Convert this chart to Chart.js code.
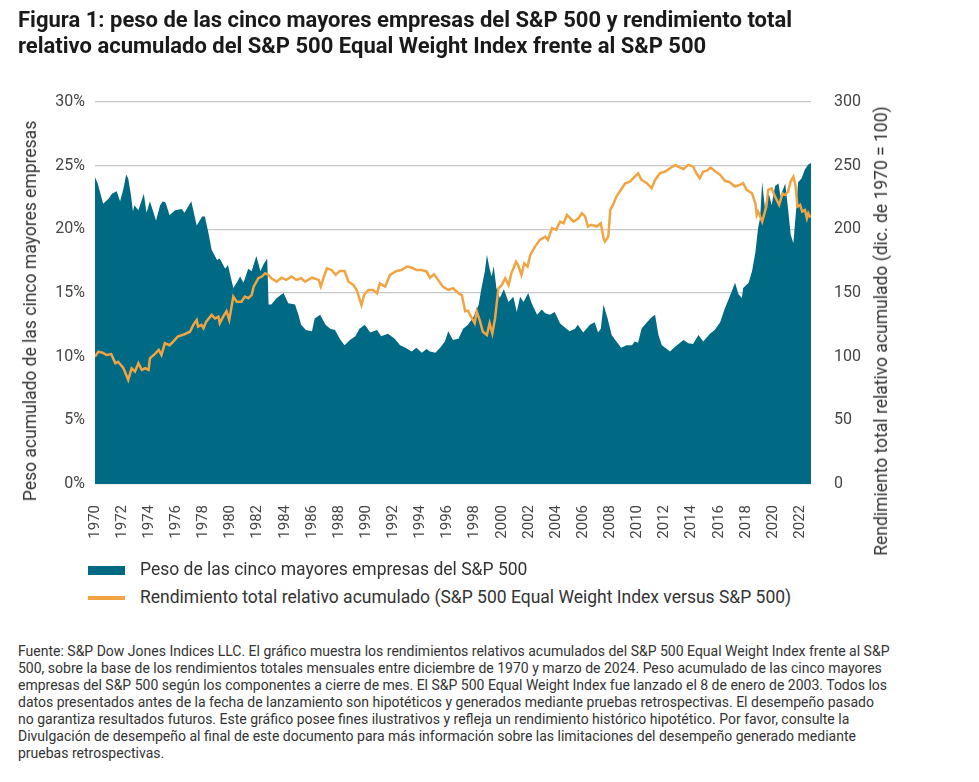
<!DOCTYPE html>
<html>
<head>
<meta charset="utf-8">
<script src="https://cdn.jsdelivr.net/npm/chart.js@4.4.1/dist/chart.umd.min.js"></script>
<style>
    body { margin: 0; background: #fff; font-family: Roboto, sans-serif; color: #222; }
    #page { position: relative; width: 979px; height: 782px; overflow: hidden; }
    #title { position: absolute; left: 18px; top: 7px; font-size: 22px; font-weight: bold; line-height: 26px; color: #1a1a1a; white-space: nowrap; }
    #chartBox { position: absolute; left: 0; top: 0; width: 979px; height: 560px; }
    .axisTitle { position: absolute; font-size: 17.5px; color: #333; white-space: nowrap; transform: translate(-50%, -50%) rotate(-90deg); }
    .legendRow { position: absolute; left: 88px; font-size: 17.5px; color: #333; white-space: nowrap; }
    .swatch { position: absolute; left: 0; width: 37px; }
    .legendRow span { position: absolute; left: 52px; top: -11px; }
    #note { position: absolute; left: 18px; top: 643px; width: 955px; font-size: 14px; line-height: 17px; color: #333; white-space: nowrap; }
</style>
</head>
<body>
<div id="page">
    <div id="chartBox"><canvas id="weightChart"></canvas></div>
    <div id="title">Figura 1: peso de las cinco mayores empresas del S&amp;P 500 y rendimiento total<br>relativo acumulado del S&amp;P 500 Equal Weight Index frente al S&amp;P 500</div>
    <div class="axisTitle" style="left:30px; top:311px;">Peso acumulado de las cinco mayores empresas</div>
    <div class="axisTitle" style="left:881px; top:331px;">Rendimiento total relativo acumulado (dic. de 1970 = 100)</div>
    <div class="legendRow" style="top:570px;"><div class="swatch" style="top:-4px; height:9px; background:#006984;"></div><span>Peso de las cinco mayores empresas del S&amp;P 500</span></div>
    <div class="legendRow" style="top:598px;"><div class="swatch" style="top:-2px; height:4px; background:#f2a443;"></div><span>Rendimiento total relativo acumulado (S&amp;P 500 Equal Weight Index versus S&amp;P 500)</span></div>
    <div id="note">Fuente: S&amp;P Dow Jones Indices LLC. El gráfico muestra los rendimientos relativos acumulados del S&amp;P 500 Equal Weight Index frente al S&amp;P<br>500, sobre la base de los rendimientos totales mensuales entre diciembre de 1970 y marzo de 2024. Peso acumulado de las cinco mayores<br>empresas del S&amp;P 500 según los componentes a cierre de mes. El S&amp;P 500 Equal Weight Index fue lanzado el 8 de enero de 2003. Todos los<br>datos presentados antes de la fecha de lanzamiento son hipotéticos y generados mediante pruebas retrospectivas. El desempeño pasado<br>no garantiza resultados futuros. Este gráfico posee fines ilustrativos y refleja un rendimiento histórico hipotético. Por favor, consulte la<br>Divulgación de desempeño al final de este documento para más información sobre las limitaciones del desempeño generado mediante<br>pruebas retrospectivas.</div>
</div>
<script>
// Weight of top five companies (%)
const weightYears = [
    1970.0, 1970.2, 1970.6, 1971.0, 1971.25, 1971.6, 1971.85, 1972.1, 1972.3, 1972.45,
    1972.65, 1972.8, 1972.9, 1973.2, 1973.6, 1973.8, 1974.05, 1974.5, 1974.8, 1975.0,
    1975.2, 1975.5, 1975.9, 1976.4, 1976.6, 1977.1, 1977.5, 1977.9, 1978.1, 1978.35,
    1978.6, 1979.0, 1979.2, 1979.6, 1979.8, 1980.2, 1980.45, 1980.7, 1980.95, 1981.3,
    1981.55, 1981.9, 1982.2, 1982.45, 1982.7, 1982.8, 1983.0, 1983.4, 1983.9, 1984.25,
    1984.75, 1985.0, 1985.2, 1985.55, 1986.0, 1986.2, 1986.6, 1987.0, 1987.35, 1987.7,
    1988.05, 1988.4, 1988.8, 1989.2, 1989.5, 1989.9, 1990.3, 1990.8, 1991.1, 1991.6,
    1992.1, 1992.5, 1992.9, 1993.35, 1993.7, 1994.1, 1994.45, 1994.7, 1995.1, 1995.45,
    1995.8, 1996.05, 1996.4, 1996.8, 1997.15, 1997.5, 1997.9, 1998.3, 1998.5, 1998.75,
    1998.9, 1999.1, 1999.25, 1999.4, 1999.6, 1999.85, 2000.15, 2000.5, 2000.85, 2001.1,
    2001.35, 2001.6, 2001.95, 2002.2, 2002.6, 2002.95, 2003.2, 2003.55, 2003.9, 2004.3,
    2004.65, 2005.0, 2005.4, 2005.6, 2006.0, 2006.5, 2006.85, 2007.1, 2007.3, 2007.5,
    2007.8, 2008.1, 2008.45, 2008.8, 2009.2, 2009.6, 2009.8, 2010.05, 2010.3, 2010.7,
    2011.05, 2011.3, 2011.55, 2011.8, 2012.05, 2012.4, 2012.8, 2013.4, 2013.75, 2014.1,
    2014.5, 2014.85, 2015.35, 2015.7, 2016.1, 2016.45, 2016.8, 2017.2, 2017.45, 2017.7,
    2017.8, 2018.2, 2018.45, 2018.7, 2018.9, 2019.05, 2019.2, 2019.4, 2019.65, 2019.9,
    2020.15, 2020.4, 2020.55, 2020.9, 2021.1, 2021.3, 2021.5, 2021.7, 2021.85, 2022.1,
    2022.35, 2022.6, 2022.8
];
const weightValues = [
    24.1, 23.6, 22.0, 22.4, 22.8, 23.0, 22.2, 23.2, 24.3, 24.0,
    22.7, 21.4, 21.9, 21.5, 22.8, 21.3, 22.2, 20.7, 21.9, 22.2,
    22.1, 21.1, 21.5, 21.6, 21.3, 22.2, 20.3, 21.0, 21.0, 19.8,
    18.4, 17.6, 17.7, 16.9, 17.2, 15.4, 15.8, 16.3, 15.8, 16.9,
    16.7, 17.9, 16.7, 17.3, 17.7, 14.1, 14.1, 14.6, 15.0, 14.2,
    14.1, 13.3, 12.5, 12.1, 12.0, 13.0, 13.3, 12.5, 12.2, 12.1,
    11.4, 10.9, 11.3, 11.6, 12.2, 12.5, 11.9, 12.1, 11.6, 11.8,
    11.4, 10.9, 10.7, 10.4, 10.7, 10.3, 10.6, 10.4, 10.3, 10.7,
    11.2, 12.0, 11.3, 11.4, 12.2, 12.5, 13.1, 14.1, 15.4, 16.7,
    18.0, 16.9, 16.3, 17.1, 15.4, 14.6, 15.3, 14.3, 14.7, 13.5,
    14.7, 14.3, 15.0, 14.2, 13.3, 13.7, 13.4, 13.3, 13.5, 12.6,
    12.3, 12.0, 12.2, 12.5, 11.9, 12.5, 12.7, 11.9, 12.2, 14.1,
    13.0, 11.7, 11.2, 10.7, 10.9, 10.9, 11.2, 11.1, 12.2, 12.7,
    13.1, 13.3, 11.7, 10.9, 10.7, 10.4, 10.8, 11.3, 11.05, 11.0,
    11.7, 11.2, 11.8, 12.1, 12.7, 13.8, 14.7, 15.8, 14.9, 14.6,
    15.4, 15.8, 16.7, 18.2, 20.1, 20.9, 23.7, 21.7, 23.0, 21.9,
    23.4, 23.6, 22.6, 23.6, 21.7, 19.6, 18.9, 21.5, 23.7, 24.0,
    24.7, 25.1, 25.2
];

// Cumulative relative total return (Dec 1970 = 100)
const returnYears = [
    1970.0, 1970.25, 1970.6, 1970.85, 1971.2, 1971.5, 1971.7, 1972.1, 1972.45, 1972.7,
    1972.95, 1973.2, 1973.45, 1973.7, 1973.95, 1974.05, 1974.4, 1974.7, 1974.9, 1975.15,
    1975.5, 1975.75, 1976.1, 1976.6, 1977.0, 1977.25, 1977.5, 1977.6, 1977.85, 1978.0,
    1978.2, 1978.6, 1978.85, 1979.1, 1979.2, 1979.45, 1979.7, 1979.9, 1980.2, 1980.45,
    1980.8, 1981.05, 1981.3, 1981.55, 1981.7, 1982.05, 1982.3, 1982.55, 1982.8, 1983.0,
    1983.4, 1983.75, 1984.1, 1984.5, 1984.85, 1985.2, 1985.5, 1986.0, 1986.5, 1986.65,
    1986.85, 1987.1, 1987.45, 1987.75, 1988.05, 1988.4, 1988.7, 1989.05, 1989.3, 1989.65,
    1989.85, 1990.15, 1990.5, 1990.8, 1991.0, 1991.4, 1991.75, 1992.25, 1992.6, 1993.0,
    1993.35, 1993.7, 1994.1, 1994.45, 1994.7, 1995.0, 1995.3, 1995.65, 1996.05, 1996.4,
    1996.8, 1997.05, 1997.3, 1997.5, 1997.8, 1998.0, 1998.15, 1998.4, 1998.6, 1998.9,
    1999.1, 1999.3, 1999.5, 1999.75, 2000.0, 2000.25, 2000.5, 2000.7, 2001.05, 2001.2,
    2001.45, 2001.65, 2001.9, 2002.1, 2002.45, 2002.8, 2003.2, 2003.4, 2003.7, 2004.0,
    2004.3, 2004.55, 2004.8, 2005.05, 2005.3, 2005.65, 2005.9, 2006.15, 2006.35, 2006.6,
    2007.0, 2007.3, 2007.5, 2007.6, 2007.85, 2008.0, 2008.2, 2008.45, 2008.7, 2009.1,
    2009.45, 2009.8, 2010.05, 2010.3, 2010.7, 2011.05, 2011.3, 2011.65, 2012.05, 2012.4,
    2012.8, 2013.0, 2013.4, 2013.75, 2014.1, 2014.35, 2014.6, 2014.85, 2015.1, 2015.4,
    2015.7, 2016.1, 2016.45, 2016.8, 2017.2, 2017.55, 2017.8, 2018.05, 2018.45, 2018.7,
    2018.8, 2018.9, 2019.2, 2019.5, 2019.65, 2019.9, 2020.15, 2020.45, 2020.7, 2020.9,
    2021.1, 2021.3, 2021.5, 2021.65, 2021.8, 2022.0, 2022.15, 2022.35, 2022.5, 2022.6,
    2022.75
];
const returnValues = [
    100, 103.9, 103, 101.3, 102, 94.8, 96, 90.9, 81.7, 90.9,
    88.3, 94.8, 89.6, 90.9, 89.6, 98.7, 102, 105.3, 101.3, 110.5,
    109, 111.6, 115.7, 117.6, 119.6, 125, 128.8, 123.6, 125, 122.3,
    127.5, 132.8, 130, 131.5, 126.3, 131.5, 135.7, 128.8, 147.2, 143.2,
    143.2, 147.2, 145.9, 148.4, 155, 161.6, 162.9, 165.5, 164.2, 161.6,
    158.9, 162, 160.3, 162.9, 160.3, 161.6, 158.9, 162, 160.3, 155,
    161.6, 169.4, 168.1, 164.2, 167.3, 167.3, 158.9, 156.3, 152.4, 140.6,
    148.4, 152.4, 152.4, 149.8, 157.6, 155, 164.2, 167.3, 168.1, 170.7,
    170, 168.1, 168.1, 166.8, 162, 164.7, 160.3, 155, 152.4, 153.7,
    149.8, 148.4, 135.7, 136.2, 130, 126.3, 135.7, 127.5, 119.6, 117,
    126.3, 118.3, 130, 153.7, 156.3, 161.6, 156.3, 165.5, 174.6, 172,
    164.2, 173.3, 170.7, 179.9, 186.4, 191.7, 194.3, 191.7, 200.9, 199.6,
    206, 204.7, 211.3, 208.7, 206, 208.7, 212.6, 210, 202.2, 203.5,
    202.2, 204.7, 193, 190.3, 194.3, 215.2, 219.2, 225.7, 229.7, 236.2,
    237.5, 241.4, 244, 238.8, 236.2, 232.2, 238.8, 244, 245.4, 248,
    250.6, 249.3, 247.4, 250.6, 249.3, 244, 240.1, 245.4, 245.9, 248.5,
    245.9, 242.8, 238.1, 237, 233.6, 234.9, 236.2, 231, 228.3, 220.5,
    211.3, 213.9, 206, 217.8, 231, 232.2, 225.7, 219.2, 228.3, 227,
    229.6, 237.5, 241.4, 234.9, 217.8, 219.2, 213.9, 215.2, 208.7, 212.6,
    209.3
];

const weightLabel = 'Peso de las cinco mayores empresas del S&P 500';
const returnLabel = 'Rendimiento total relativo acumulado (S&P 500 Equal Weight Index versus S&P 500)';

document.addEventListener('DOMContentLoaded', function() {
    const ctx = document.getElementById('weightChart');
    new Chart(ctx.getContext('2d'), {
        type: 'line',
        data: {
            datasets: [{
                label: returnLabel,
                data: returnYears.map((yr, i) => ({ x: yr, y: returnValues[i] })),
                yAxisID: 'yRight',
                borderColor: '#f2a443',
                borderWidth: 2.5,
                pointRadius: 0,
                fill: false,
                tension: 0,
                order: 0
            }, {
                label: weightLabel,
                data: weightYears.map((yr, i) => ({ x: yr, y: weightValues[i] })),
                yAxisID: 'yLeft',
                borderWidth: 0,
                borderColor: '#006984',
                backgroundColor: '#006984',
                pointRadius: 0,
                fill: 'origin',
                tension: 0,
                order: 1
            }]
        },
        options: {
            responsive: true,
            maintainAspectRatio: false,
            animation: false,
            layout: {
                padding: { top: 102, left: 0, right: 0, bottom: 0 }
            },
            plugins: {
                legend: { display: false },
                tooltip: { enabled: false }
            },
            scales: {
                x: {
                    type: 'linear',
                    min: 1970,
                    max: 2022.8,
                    grid: { display: false },
                    border: { display: false },
                    ticks: {
                        stepSize: 2,
                        includeBounds: false,
                        autoSkip: false,
                        minRotation: 90,
                        maxRotation: 90,
                        padding: 13,
                        color: '#444',
                        font: { family: 'Roboto', size: 15 },
                        callback: v => String(v)
                    },
                    afterFit: scale => { scale.height = 76; }
                },
                yLeft: {
                    position: 'left',
                    min: 0,
                    max: 30,
                    grid: { color: '#c8c8c8', drawTicks: false, lineWidth: 1.3 },
                    border: { display: false },
                    ticks: {
                        stepSize: 5,
                        padding: 10,
                        color: '#444',
                        font: { family: 'Roboto', size: 16 },
                        callback: v => v + '%'
                    },
                    afterFit: scale => { scale.width = 95; }
                },
                yRight: {
                    position: 'right',
                    min: 0,
                    max: 300,
                    grid: { display: false },
                    border: { display: false },
                    ticks: {
                        stepSize: 50,
                        padding: 15,
                        color: '#444',
                        font: { family: 'Roboto', size: 16 }
                    },
                    afterFit: scale => { scale.width = 168; }
                }
            }
        }
    });
});
</script>
</body>
</html>
